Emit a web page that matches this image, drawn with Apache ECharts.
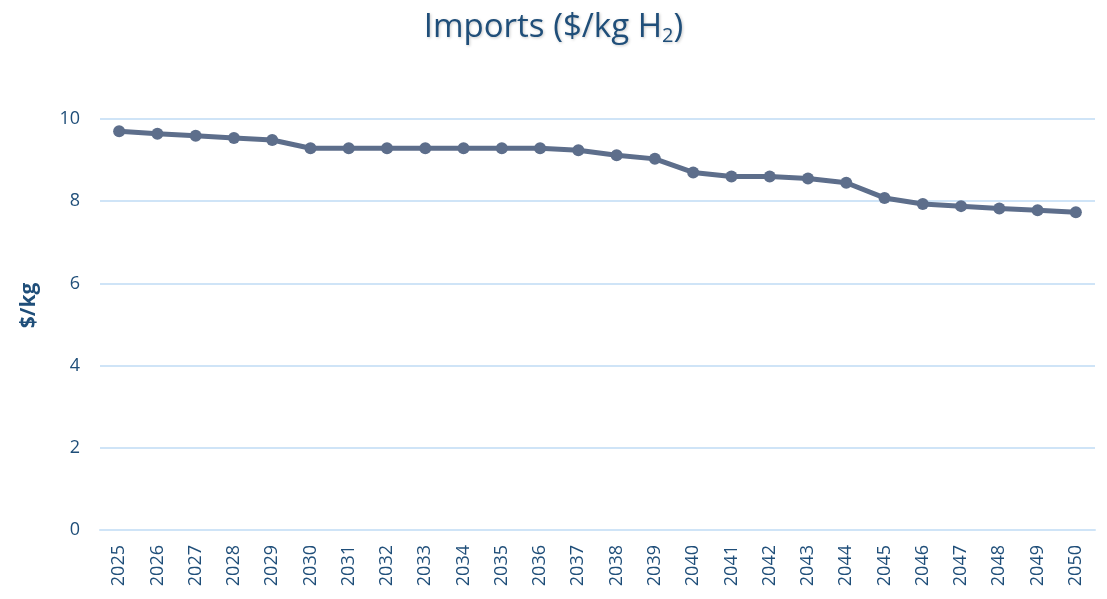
<!DOCTYPE html>
<html>
<head>
<meta charset="utf-8">
<script src="https://cdn.jsdelivr.net/npm/echarts@6/dist/echarts.min.js"></script>
<style>
    html,body{margin:0;padding:0;background:#fff;}
    #chart{width:1107px;height:599px;}
</style>
</head>
<body>
<div id="chart"></div>
<script>
// data
const years = ['2025','2026','2027','2028','2029','2030','2031','2032','2033','2034','2035','2036','2037',
    '2038','2039','2040','2041','2042','2043','2044','2045','2046','2047','2048','2049','2050']
const importCost = [9.7,9.64,9.59,9.54,9.49,9.29,9.29,9.29,9.29,9.29,9.29,9.29,9.24,
    9.12,9.03,8.7,8.6,8.6,8.55,8.45,8.08,7.93,7.88,7.82,7.78,7.73]
const yTicks = [0,2,4,6,8,10]

const textColor = '#1f4e79'
const gridColor = '#cfe4f7'
const font = '"Open Sans", "Liberation Sans", sans-serif'
const shadow = {textShadowColor:'rgba(0,0,0,0.22)',textShadowBlur:3,textShadowOffsetX:1,textShadowOffsetY:1}

const myChart = echarts.init(document.getElementById('chart'))
myChart.setOption({
    animation:false,
    title:{
        text:'{a|Imports ($/kg H}{s|2}{a|)}',
        left:'center',
        top:4,
        textStyle:{
            rich:{
                a:Object.assign({fontSize:33,fontWeight:'normal',color:textColor,fontFamily:font},shadow),
                s:Object.assign({fontSize:20,fontWeight:'normal',color:textColor,fontFamily:font,padding:[17,0,0,0]},shadow)
            }
        }
    },
    grid:{
        left:100,
        right:12,
        top:119,
        bottom:69
    },
    xAxis:{
        type:'category',
        data:years,
        boundaryGap:true,
        axisLine:{lineStyle:{color:gridColor,width:2}},
        axisTick:{show:false},
        axisLabel:{
            rotate:90,
            interval:0,
            margin:15,
            fontSize:18,
            color:textColor,
            fontFamily:font
        }
    },
    yAxis:{
        type:'value',
        min:yTicks[0],
        max:yTicks[yTicks.length-1],
        interval:2,
        name:'$/kg',
        nameLocation:'middle',
        nameGap:60,
        nameTextStyle:{fontSize:21,fontWeight:'bold',color:textColor,fontFamily:font,padding:[0,0,0,38]},
        axisLine:{show:false},
        axisTick:{show:false},
        axisLabel:{fontSize:18,color:textColor,fontFamily:font,margin:20},
        splitLine:{lineStyle:{color:gridColor,width:2}}
    },
    series:[
        {
            name:'Imports',
            type:'line',
            data:importCost,
            symbol:'circle',
            symbolSize:12,
            color:'#5d6e8b',
            lineStyle:{width:5,color:'#5d6e8b'},
            itemStyle:{color:'#5d6e8b'}
        }
    ]
})
</script>
</body>
</html>
